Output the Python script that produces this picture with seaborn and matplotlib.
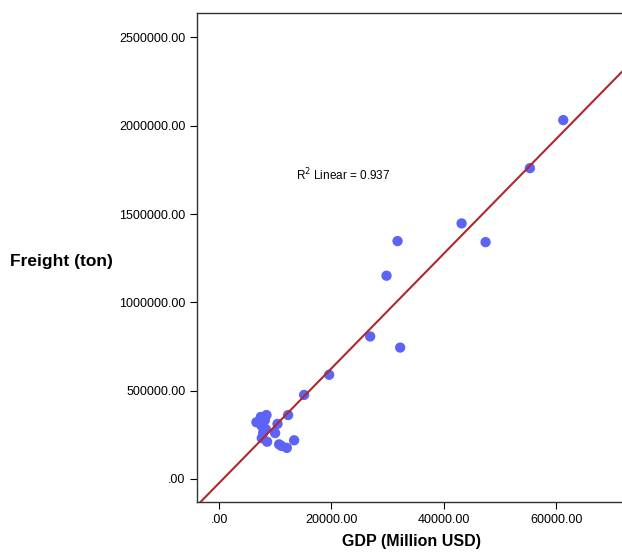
import matplotlib
matplotlib.use("Agg")
import matplotlib.pyplot as plt
import seaborn as sns
import pandas as pd
from matplotlib.ticker import FuncFormatter

# GDP (million USD) and freight (ton)
gdp = [61270, 55330, 43170, 47440, 31770, 29810, 26900, 32240, 19590, 15140,
       12290, 13360, 12060, 10690, 11110, 10400, 9980, 8550, 7600, 7840,
       8440, 7430, 6650, 8140, 7550, 8320]
freight = [2032000, 1760000, 1447000, 1341000, 1347000, 1151000, 807000, 744000, 590000, 476000,
           362000, 219000, 176000, 196000, 187000, 312000, 260000, 211000, 231000, 261000,
           362000, 351000, 321000, 332000, 302000, 282000]
r2_text = "R$^2$ Linear = 0.937"

x_ticks = [0, 20000, 40000, 60000]
y_ticks = [0, 500000, 1000000, 1500000, 2000000, 2500000]

df = pd.DataFrame({"gdp": gdp, "freight": freight})

sns.set_style("ticks")
plt.rcParams['font.family'] = ['Liberation Sans', 'DejaVu Sans']
plt.rcParams['text.color'] = 'black'
plt.rcParams['axes.labelcolor'] = 'black'
plt.rcParams['xtick.color'] = 'black'
plt.rcParams['ytick.color'] = 'black'

fig = plt.figure(figsize=(6.22, 5.54), dpi=100)
ax = fig.add_axes([0.317, 0.094, 0.69, 0.883])

ax.set_xlim(-3900, 72500)
ax.set_ylim(-130000, 2640000)

sns.scatterplot(data=df, x="gdp", y="freight", ax=ax, color="#5d63f4",
                s=55, edgecolor="none", zorder=3)
sns.regplot(data=df, x="gdp", y="freight", ax=ax, scatter=False, ci=None,
            truncate=False, line_kws=dict(color="#b0282a", linewidth=1.5, zorder=4))

ax.set_xlim(-3900, 72500)
ax.set_ylim(-130000, 2640000)

def fmt(v, pos):
    s = f"{v:.2f}"
    return s[1:] if s.startswith("0.") else s

ax.set_xticks(x_ticks)
ax.set_yticks(y_ticks)
ax.xaxis.set_major_formatter(FuncFormatter(fmt))
ax.yaxis.set_major_formatter(FuncFormatter(fmt))
ax.tick_params(axis="both", labelsize=9, length=5, width=0.8, direction="out")

for sp in ax.spines.values():
    sp.set_color("#333333")
    sp.set_linewidth(1.0)

ax.set_xlabel("GDP (Million USD)", fontsize=11.5, fontweight="bold", labelpad=6)
ax.set_ylabel("Freight (ton)", fontsize=12.5, fontweight="bold", rotation=0,
              ha="left", va="center")
ax.yaxis.set_label_coords(-0.435, 0.491)

ax.text(13660, 1723000, r2_text, fontsize=8.5, ha="left", va="center")

fig.savefig("out.png", dpi=100)
